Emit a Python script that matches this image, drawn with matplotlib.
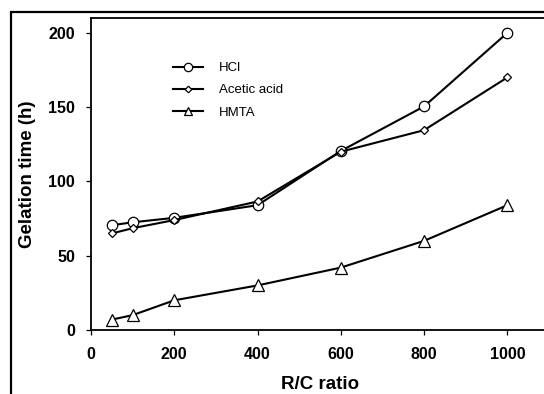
import matplotlib
matplotlib.use('Agg')
import matplotlib.pyplot as plt
from matplotlib.patches import Rectangle

plt.rcParams['font.family'] = ['Liberation Sans', 'DejaVu Sans']

# R/C ratio vs gelation time
rc_ratio = [50, 100, 200, 400, 600, 800, 1000]
hcl = [70.5, 72.5, 75.5, 84, 120.5, 150.5, 200]
acetic = [65, 68.5, 74, 86.5, 120, 134.5, 170]
hmta = [7, 10, 20, 30, 42, 60, 84]

W, H = 544, 394
fig = plt.figure(figsize=(W / 100, H / 100), dpi=100)

# outer frame round the whole picture (cut at right and bottom)
fig.patches.append(Rectangle((11 / W, -0.1), 1.2, 1.1 - 12 / H,
                             transform=fig.transFigure, fill=False,
                             lw=1.6, ec='black'))

ax = fig.add_axes([91 / W, (H - 330) / H, 458 / W, 312 / H])
ax.plot(rc_ratio, hcl, '-o', color='black', lw=1.5, ms=7.5,
        mfc='white', mec='black', mew=0.9, label='HCl')
ax.plot(rc_ratio, acetic, '-D', color='black', lw=1.5, ms=4.2,
        mfc='white', mec='black', mew=0.9, label='Acetic acid')
ax.plot(rc_ratio, hmta, '-^', color='black', lw=1.5, ms=8,
        mfc='white', mec='black', mew=0.9, label='HMTA')

ax.set_xlim(0, 1100)
ax.set_ylim(0, 210)
ax.set_xticks([0, 200, 400, 600, 800, 1000])
ax.set_yticks([0, 50, 100, 150, 200])
ax.tick_params(direction='out', length=3.5, width=0.9, labelsize=11.5)
ax.tick_params(axis='x', pad=9)
ax.tick_params(axis='y', pad=8)
for lab in ax.get_xticklabels() + ax.get_yticklabels():
    lab.set_fontweight('bold')
for s in ax.spines.values():
    s.set_linewidth(1.3)

ax.set_xlabel('R/C ratio', fontsize=13.5, fontweight='bold', labelpad=9.5)
ax.set_ylabel('Gelation time (h)', fontsize=13.5, fontweight='bold', labelpad=9)

ax.legend(loc='upper left', bbox_to_anchor=(173 / W, (H - 62) / H),
          bbox_transform=fig.transFigure, frameon=False, fontsize=9.5,
          borderpad=0, borderaxespad=0, handlelength=2.3, markerscale=0.8,
          handletextpad=1.2, labelspacing=0.75)

fig.savefig('out.png', dpi=100)
